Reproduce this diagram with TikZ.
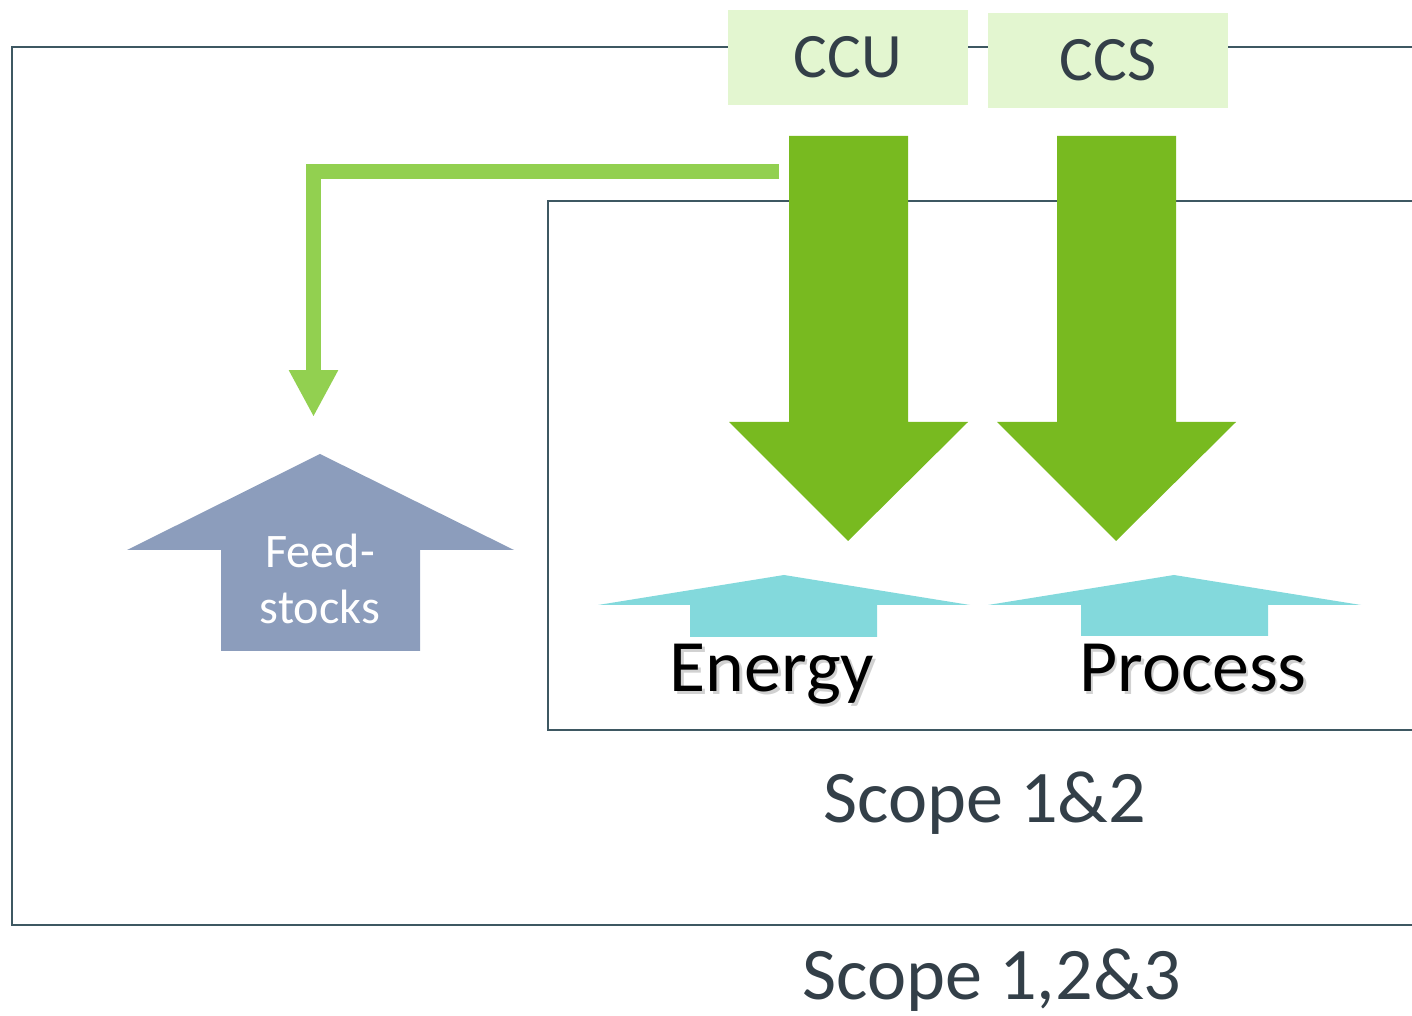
\documentclass[tikz,border=0pt]{standalone}
\usepackage{fontspec}
\setmainfont{Carlito}
\usetikzlibrary{arrows.meta}
\definecolor{frameline}{HTML}{3E5862}
\definecolor{darktext}{HTML}{333F48}
\definecolor{boxfill}{HTML}{E3F6D0}
\definecolor{biggreen}{HTML}{78BA20}
\definecolor{lightgreen}{HTML}{92D050}
\definecolor{feedblue}{HTML}{8C9DBC}
\definecolor{cyanarrow}{HTML}{83D9DC}
\tikzset{
  frame/.style={draw=frameline, line width=0.75pt},
  techbox/.style={fill=boxfill, minimum width=240*0.2833pt, minimum height=95*0.2833pt,
    inner sep=0pt, text=darktext, font=\fontsize{18}{22}\selectfont},
  bigarrow/.style={fill=biggreen},
  flowarrow/.style={fill=cyanarrow},
  sourcelabel/.style={text=black, font=\fontsize{21}{24}\selectfont, inner sep=0pt, anchor=base},
  shadowlabel/.style={text=black!40, opacity=0.45, font=\fontsize{21}{24}\selectfont, inner sep=0pt, anchor=base},
  scopelabel/.style={text=darktext, font=\fontsize{21.1}{24}\selectfont, inner sep=0pt, anchor=base},
}
\begin{document}
\begin{tikzpicture}[x=0.01cm, y=-0.01cm]
\useasboundingbox (0,0) rectangle (1412,1016);

% scope frames, open to the right
\draw[frame] (1412,47) -- (12,47) -- (12,925) -- (1412,925);
\draw[frame] (1412,201) -- (548,201) -- (548,730) -- (1412,730);

% capture technologies
\node[techbox] (ccu) at (848,57.5) {CCU};
\node[techbox] (ccs) at (1108,60.5) {CCS};

% large downward arrows
\fill[bigarrow] (789,136) -- (908,136) -- (908,422) -- (968,422) -- (848,541)
  -- (729,422) -- (789,422) -- cycle;
\fill[bigarrow] (1057,136) -- (1176,136) -- (1176,422) -- (1236,422) -- (1116,541)
  -- (997,422) -- (1057,422) -- cycle;
\coordinate (ccuout) at (779,171.5);

% feedstocks arrow
\fill[fill=feedblue] (221,651) -- (221,550) -- (127,550) -- (320,454) -- (514,550)
  -- (420,550) -- (420,651) -- cycle;
\node[text=white, align=center, font=\fontsize{13.7}{16.1}\selectfont, inner sep=0pt]
  (feed) at (320,579) {Feed-\\stocks};
\coordinate (feedin) at (313.5,417);

% captured carbon routed to feedstocks
\draw[lightgreen, line width=15*0.2833pt,
  -{Triangle[width=46*0.2833pt, length=47*0.2833pt]}]
  (ccuout) -| (feedin);

% emission sources
\fill[flowarrow] (690,637) -- (690,605) -- (598,605) -- (784,575) -- (970,605)
  -- (877,605) -- (877,637) -- cycle;
\fill[flowarrow] (1081,636) -- (1081,605) -- (988,605) -- (1174,575) -- (1361,605)
  -- (1268,605) -- (1268,636) -- cycle;

\node[shadowlabel] at (774.5,694.5) {Energy};
\node[shadowlabel] at (1195.5,694.5) {Process};
\node[sourcelabel] (energy) at (772,692) {Energy};
\node[sourcelabel] (process) at (1193,692) {Process};

% scope captions
\node[scopelabel] (scope12) at (985,822) {Scope 1\&2};
\node[scopelabel] (scope123) at (992,999) {Scope 1,2\&3};
\end{tikzpicture}
\end{document}
